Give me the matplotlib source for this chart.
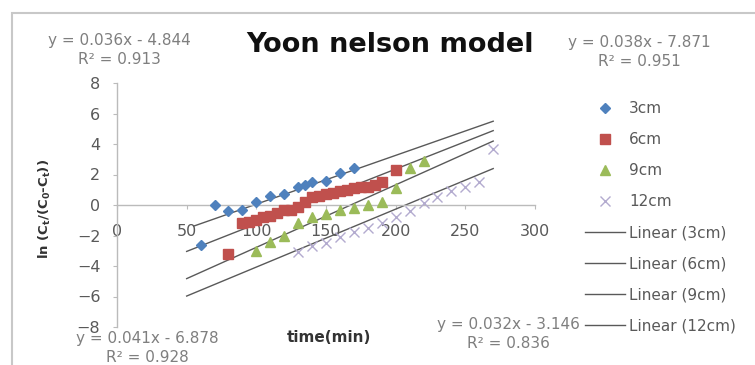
import matplotlib.pyplot as plt
from matplotlib.lines import Line2D
from matplotlib.patches import Rectangle
import numpy as np

plt.rcParams['font.family'] = ['DejaVu Sans']
plt.rcParams['mathtext.default'] = 'regular'

# bed depth series: time (min) vs ln(Ct/(C0-Ct))
x_3cm = [60, 70, 80, 90, 100, 110, 120, 130, 135, 140, 150, 160, 170]
y_3cm = [-2.6, 0.0, -0.4, -0.3, 0.2, 0.6, 0.7, 1.2, 1.3, 1.5, 1.6, 2.1, 2.4]

x_6cm = [80, 90, 95, 100, 105, 110, 115, 120, 125, 130, 135, 140, 145, 150,
         155, 160, 165, 170, 175, 180, 185, 190, 200]
y_6cm = [-3.2, -1.2, -1.1, -1.0, -0.8, -0.7, -0.5, -0.3, -0.3, -0.1, 0.2, 0.5,
         0.6, 0.7, 0.8, 0.9, 1.0, 1.1, 1.2, 1.2, 1.3, 1.5, 2.3]

x_9cm = [100, 110, 120, 130, 140, 150, 160, 170, 180, 190, 200, 210, 220]
y_9cm = [-3.0, -2.4, -2.0, -1.2, -0.8, -0.6, -0.3, -0.2, 0.0, 0.2, 1.1, 2.4, 2.9]

x_12cm = [130, 140, 150, 160, 170, 180, 190, 200, 210, 220, 230, 240, 250, 260, 270]
y_12cm = [-3.1, -2.7, -2.5, -2.1, -1.8, -1.5, -1.2, -0.8, -0.4, 0.1, 0.5, 0.9,
          1.2, 1.5, 3.7]

# fitted trendlines  y = a*x + b
slopes = [0.032, 0.036, 0.041, 0.038]
intercepts = [-3.146, -4.844, -6.878, -7.871]
r2 = [0.836, 0.913, 0.928, 0.951]
trend_start = [55, 50, 50, 50]
trend_end = 270

labels = ['3cm', '6cm', '9cm', '12cm']

W, H = 755, 365
fig = plt.figure(figsize=(W / 100, H / 100), dpi=100)
ax = fig.add_axes([117 / W, 1 - 327 / H, 418 / W, 244 / H])

ax.set_xlim(0, 300)
ax.set_ylim(-8, 8)
ax.set_xticks(np.arange(0, 301, 50))
ax.set_yticks(np.arange(-8, 9, 2))

ax.spines['top'].set_visible(False)
ax.spines['right'].set_visible(False)
ax.spines['bottom'].set_position(('data', 0))
for s in ('left', 'bottom'):
    ax.spines[s].set_color('#BBBBBB')
    ax.spines[s].set_linewidth(1.0)
ax.tick_params(axis='both', colors='#BBBBBB', labelcolor='#595959',
               labelsize=11.5, length=3, direction='out')
ax.tick_params(axis='x', pad=11)
ax.tick_params(axis='y', pad=9)

# trendlines first so markers sit on top
for a, b, x0 in zip(slopes, intercepts, trend_start):
    xs = np.array([x0, trend_end])
    ax.plot(xs, a * xs + b, color='#595959', lw=1.0, zorder=2)

ax.plot(x_3cm, y_3cm, 'D', color='#4F81BD', ms=5.5, ls='none', zorder=3)
ax.plot(x_6cm, y_6cm, 's', color='#C0504D', ms=7, ls='none', zorder=3)
ax.plot(x_9cm, y_9cm, '^', color='#9BBB59', ms=7, ls='none', zorder=3)
ax.plot(x_12cm, y_12cm, 'x', color='#B3ABCF', ms=6.5, mew=1.0, ls='none', zorder=3)

marker_handles = [
    Line2D([], [], marker='D', color='#4F81BD', ms=5.5, ls='none'),
    Line2D([], [], marker='s', color='#C0504D', ms=7, ls='none'),
    Line2D([], [], marker='^', color='#9BBB59', ms=7, ls='none'),
    Line2D([], [], marker='x', color='#B3ABCF', ms=6.5, mew=1.0, ls='none'),
]
handles = marker_handles + [Line2D([], [], color='#595959', lw=1.0) for _ in labels]
leg_labels = labels + ['Linear (%s)' % l for l in labels]
fig.legend(handles, leg_labels, loc='upper left',
           bbox_to_anchor=(585 / W, 1 - 101 / H), frameon=False,
           fontsize=11, labelcolor='#595959', borderpad=0, borderaxespad=0,
           handlelength=2.6, handletextpad=0.3, labelspacing=1.05)

# title and axis titles
fig.text(390 / W, 1 - 45 / H, 'Yoon nelson model', ha='center', va='center',
         fontsize=19.5, fontweight='bold', color='#111111')
fig.text(329 / W, 1 - 337 / H, 'time(min)', ha='center', va='center',
         fontsize=11, fontweight='bold', color='#333333')
fig.text(45 / W, 1 - 209 / H, 'ln (C$_t$/(C$_0$-C$_t$))', ha='center',
         va='center', rotation=90, fontsize=9.5, fontweight='bold',
         color='#333333')

# trendline equations, placed next to their lines
eq_pos = [(508, 325), (119, 40), (147, 339), (639, 43)]
for (px, py), a, b, r in zip(eq_pos, slopes, intercepts, r2):
    fig.text(px / W, 1 - py / H, 'y = %.3fx - %.3f' % (a, -b), ha='center',
             va='center', fontsize=11, color='#7F7F7F')
    fig.text(px / W, 1 - (py + 19) / H, 'R² = %.3f' % r, ha='center',
             va='center', fontsize=11, color='#7F7F7F')

# chart area border
fig.patches.append(Rectangle((12 / W, -0.2), 1.2, 1.2 - 13 / H,
                             transform=fig.transFigure, fill=False,
                             edgecolor='#C8C8C8', lw=1.5))

fig.savefig('out.png', dpi=100)
